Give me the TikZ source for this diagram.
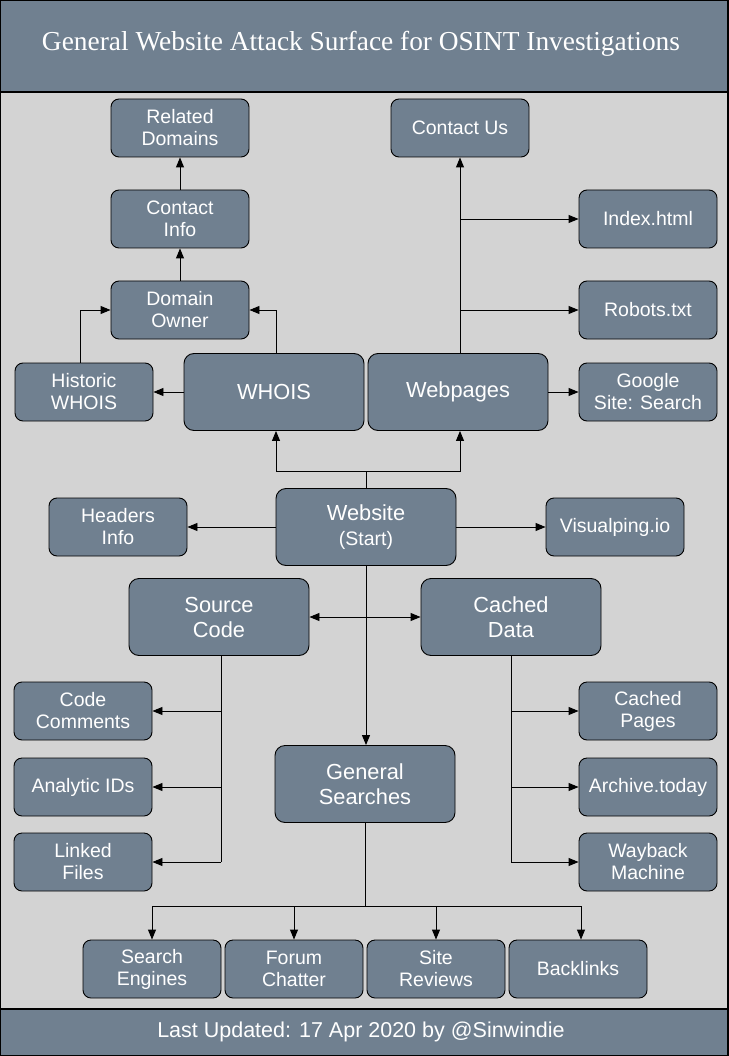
\documentclass[tikz,border=0pt]{standalone}
\usepackage{fontspec}
\usepackage{graphicx}
\setmainfont{Liberation Sans}
\newfontfamily\titlefont{Liberation Serif}
\usetikzlibrary{arrows.meta}
\definecolor{boxfill}{HTML}{708090}
\definecolor{bgfill}{HTML}{D3D3D3}
\tikzset{
  sbox/.style={draw=black, line width=0.9pt, fill=boxfill, rounded corners=8pt,
    minimum width=138pt, minimum height=58pt, inner sep=0pt, align=center,
    text=white, font=\fontsize{19.5}{22}\selectfont},
  bbox/.style={sbox, minimum width=180pt, minimum height=77pt, rounded corners=10pt,
    font=\fontsize{21.8}{25}\selectfont},
  conn/.style={draw=black, line width=0.9pt},
  arr/.style={conn, -{Triangle[length=10pt,width=8pt]}},
  darr/.style={conn, {Triangle[length=10pt,width=8pt]}-{Triangle[length=10pt,width=8pt]}},
}
\begin{document}
\begin{tikzpicture}[x=1pt,y=-1pt]
\useasboundingbox (0,0) rectangle (728,1056);
% frame
\path[fill=bgfill] (0,92) rectangle (728,1009);
\path[fill=boxfill, draw=black, line width=1.2pt] (0,0) rectangle (728,92);
\path[fill=boxfill, draw=black, line width=1.2pt] (0,1009) rectangle (728,1056);
\draw[black, line width=2pt] (0,0) rectangle (728,1056);
\node[text=white, inner sep=0pt] (title) at (361,44) {\resizebox{638pt}{!}{\titlefont General Website Attack Surface for OSINT Investigations}};
\node[text=white, inner sep=0pt, font=\fontsize{21.5}{25}\selectfont] (foot) at (361,1032) {Last Updated: 17 Apr 2020 by @Sinwindie};
% nodes
\node[sbox] (rd) at (180,128) {Related\\Domains};
\node[sbox] (cus) at (460,128) {Contact Us};
\node[sbox] (ci) at (180,219) {Contact\\Info};
\node[sbox] (idx) at (648,219) {Index.html};
\node[sbox] (do) at (180,310) {Domain\\Owner};
\node[sbox] (rob) at (648,310) {Robots.txt};
\node[sbox] (hw) at (84,392) {Historic\\WHOIS};
\node[bbox] (whois) at (274,392) {WHOIS};
\node[bbox] (webp) at (458,392) {Webpages};
\node[sbox] (gss) at (648,392) {Google\\Site: Search};
\node[sbox] (hi) at (118,527) {Headers\\Info};
\node[bbox] (web) at (366,527) {Website\\{\fontsize{19.5}{22}\selectfont(Start)}};
\node[sbox] (vp) at (615,527) {Visualping.io};
\node[bbox] (src) at (219,617) {Source\\Code};
\node[bbox] (cd) at (511,617) {Cached\\Data};
\node[sbox] (cc) at (83,711) {Code\\Comments};
\node[sbox] (cp) at (648,711) {Cached\\Pages};
\node[sbox] (aid) at (83,787) {Analytic IDs};
\node[sbox] (arc) at (648,787) {Archive.today};
\node[bbox] (gs) at (365,784) {General\\Searches};
\node[sbox] (lf) at (83,862) {Linked\\Files};
\node[sbox] (wb) at (648,862) {Wayback\\Machine};
\node[sbox] (se) at (152,969) {Search\\Engines};
\node[sbox] (fc) at (294,969) {Forum\\Chatter};
\node[sbox] (sr) at (436,969) {Site\\Reviews};
\node[sbox] (bl) at (578,969) {Backlinks};
% connectors: website up
\coordinate (wj) at (366,471);
\draw[conn] (web.north) -- (wj);
\draw[arr] (wj) -| ([xshift=2pt]whois.south);
\draw[arr] (wj) -| ([xshift=2pt]webp.south);
% whois
\draw[arr] (whois.west) -- (hw.east);
\draw[arr] ([xshift=2pt]whois.north) |- (do.east);
\draw[arr] ([xshift=-4pt]hw.north) |- (do.west);
\draw[arr] (do.north) -- (ci.south);
\draw[arr] (ci.north) -- (rd.south);
% webpages
\draw[arr] (cus.south |- webp.north) -- (cus.south);
\draw[arr] (cus.south |- idx.west) -- (idx.west);
\draw[arr] (cus.south |- rob.west) -- (rob.west);
\draw[arr] (webp.east) -- (gss.west);
% website sides
\draw[arr] (web.west) -- (hi.east);
\draw[arr] (web.east) -- (vp.west);
\draw[arr] (web.south) -- (web.south |- gs.north);
\draw[darr] (src.east) -- (cd.west);
% source code
\coordinate (sj) at ([xshift=2pt]src.south);
\draw[conn] (sj) -- (sj |- lf.east);
\draw[arr] (sj |- cc.east) -- (cc.east);
\draw[arr] (sj |- aid.east) -- (aid.east);
\draw[arr] (sj |- lf.east) -- (lf.east);
% cached data
\draw[conn] (cd.south) -- (cd.south |- wb.west);
\draw[arr] (cd.south |- cp.west) -- (cp.west);
\draw[arr] (cd.south |- arc.west) -- (arc.west);
\draw[arr] (cd.south |- wb.west) -- (wb.west);
% general searches
\coordinate (gj) at (365,906);
\coordinate (blt) at ([xshift=3pt]bl.north);
\draw[conn] (gs.south) -- (gj);
\draw[conn] (gj -| se.north) -- (gj -| blt);
\draw[arr] (gj -| se.north) -- (se.north);
\draw[arr] (gj -| fc.north) -- (fc.north);
\draw[arr] (gj -| sr.north) -- (sr.north);
\draw[arr] (gj -| blt) -- (blt);
\end{tikzpicture}
\end{document}
